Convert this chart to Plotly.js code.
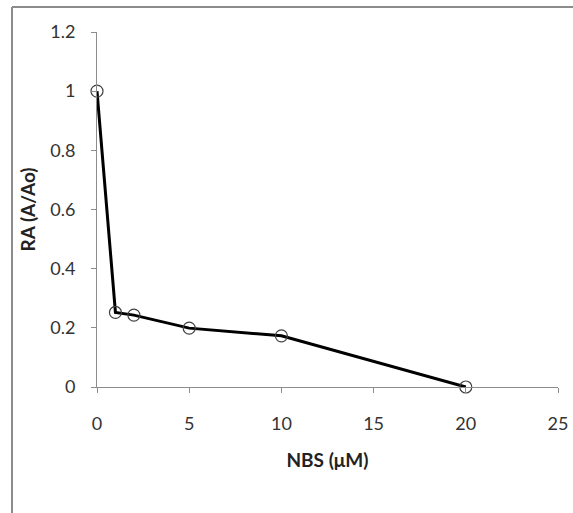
<!DOCTYPE html>
<html>
<head>
<meta charset="utf-8">
<script src="https://cdn.plot.ly/plotly-3.0.1.min.js"></script>
<style>html,body{margin:0;padding:0;background:#fff;}#chart{width:573px;height:513px;}</style>
</head>
<body>
<div id="chart"></div>
<script>
const nbs = [0, 1, 2, 5, 10, 20];
const ra = [1.0, 0.252, 0.243, 0.199, 0.173, 0.0];
const xTicks = [0, 5, 10, 15, 20, 25];
const yTicks = [0, 0.2, 0.4, 0.6, 0.8, 1, 1.2];
const yTickLabels = ['0', '0.2', '0.4', '0.6', '0.8', '1', '1.2'];

const W = 573, H = 513;
const m = {l: 97, r: 15, t: 32, b: 126};
const pw = W - m.l - m.r, ph = H - m.t - m.b;
const fx = px => (px - m.l) / pw;
const fy = py => (H - m.b - py) / ph;

const font = "Lato, 'Open Sans', 'Liberation Sans', sans-serif";

Plotly.newPlot('chart', [{
  x: nbs, y: ra, type: 'scatter', mode: 'lines+markers',
  line: {color: '#000000', width: 3},
  marker: {symbol: 'circle-open', size: 12, color: '#404040', line: {width: 1.2, color: '#404040'}},
  cliponaxis: false, showlegend: false
}], {
  width: W, height: H,
  margin: m,
  paper_bgcolor: '#ffffff', plot_bgcolor: '#ffffff',
  font: {family: font, size: 18, color: '#333333'},
  xaxis: {
    range: [0, 25], tickvals: xTicks, ticktext: xTicks.map(String),
    showgrid: false, zeroline: false, showline: true, linecolor: '#8c8c8c', linewidth: 1,
    ticks: 'outside', ticklen: 5, tickcolor: '#8c8c8c', tickfont: {size: 18, color: '#333'},
    ticklabelstandoff: 15,
    title: {text: '<b>NBS (μM)</b>', font: {size: 19, color: '#222'}, standoff: 21}
  },
  yaxis: {
    range: [0, 1.2], tickvals: yTicks, ticktext: yTickLabels,
    showgrid: false, zeroline: false, showline: true, linecolor: '#8c8c8c', linewidth: 1,
    ticks: 'outside', ticklen: 5, tickcolor: '#8c8c8c', tickfont: {size: 18, color: '#333'},
    ticklabelstandoff: 12,
    title: {text: '<b>RA (A/Ao)</b>', font: {size: 19, color: '#222'}, standoff: 9}
  },
  shapes: [
    {type: 'line', xref: 'paper', yref: 'paper', x0: fx(12), x1: fx(12), y0: fy(7), y1: fy(520), line: {color: '#8c8c8c', width: 2}},
    {type: 'line', xref: 'paper', yref: 'paper', x0: fx(12), x1: fx(580), y0: fy(7), y1: fy(7), line: {color: '#8c8c8c', width: 2}}
  ]
}, {displayModeBar: false, staticPlot: true});
</script>
</body>
</html>
